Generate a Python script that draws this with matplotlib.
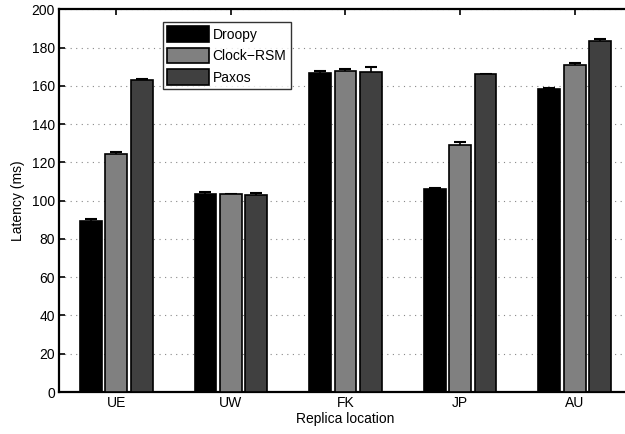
"""
    Latency per replica location, grouped bars with error bars
"""
import numpy as np
import matplotlib
matplotlib.use('Agg')
import matplotlib.pyplot as plt

plt.rcParams['font.family'] = ['Liberation Sans', 'DejaVu Sans']

locations = ['UE', 'UW', 'FK', 'JP', 'AU']
protocols = ['Droopy', 'Clock\u2212RSM', 'Paxos']
droopy = [89.2, 103.7, 166.8, 106.3, 158.4]
clock_rsm = [124.2, 103.3, 167.9, 129.3, 170.8]
paxos = [163.0, 102.8, 167.4, 166.1, 183.6]
droopy_err = [1.1, 0.8, 1.1, 0.5, 0.4]
clock_rsm_err = [1.1, 0.3, 0.7, 1.1, 1.2]
paxos_err = [0.7, 1.2, 2.3, 0.3, 0.7]

series = [droopy, clock_rsm, paxos]
errors = [droopy_err, clock_rsm_err, paxos_err]
colors = ['black', '#808080', '#404040']

fig = plt.figure(figsize=(6.25, 4.34), dpi=100)
ax = fig.add_axes([59/625, 42/434, (632-59)/625, (424.7-42)/434])

x = np.arange(1, len(locations) + 1)
width = 0.19
offsets = [-0.222, 0, 0.222]

# grid behind everything
ax.yaxis.grid(True, linestyle=(0, (1, 4)), color='#888888', linewidth=0.8)
ax.set_axisbelow(True)

for vals, errs, col, off, name in zip(series, errors, colors, offsets, protocols):
    ax.bar(x + off, vals, width, color=col, edgecolor='black', linewidth=1.2,
           label=name, zorder=3)
    # draw error bars under the bars so only the upper half shows
    ax.errorbar(x + off, vals, yerr=errs, fmt='none', ecolor='black',
                elinewidth=1.2, capsize=4, capthick=1.5, zorder=2.5)

ax.set_xlim(0.5, 5.5)
ax.set_ylim(0, 200)
ax.set_yticks(np.arange(0, 201, 20))
ax.set_xticks(x)
ax.set_xticklabels(locations)
ax.tick_params(direction='in', length=4, width=1.2, labelsize=10,
               top=True, right=True, pad=3)
for s in ax.spines.values():
    s.set_linewidth(1.6)

ax.set_xlabel('Replica location', fontsize=10, labelpad=1)
ax.set_ylabel('Latency (ms)', fontsize=10, labelpad=5)

leg = ax.legend(loc='upper left', bbox_to_anchor=(0.182, 0.966), fontsize=10,
                frameon=True, fancybox=False, edgecolor='black',
                handlelength=3.0, handleheight=1.3, borderpad=0.3,
                labelspacing=0.45, handletextpad=0.25, borderaxespad=0)
leg.get_frame().set_linewidth(1.0)

plt.savefig('out.png', dpi=100)
